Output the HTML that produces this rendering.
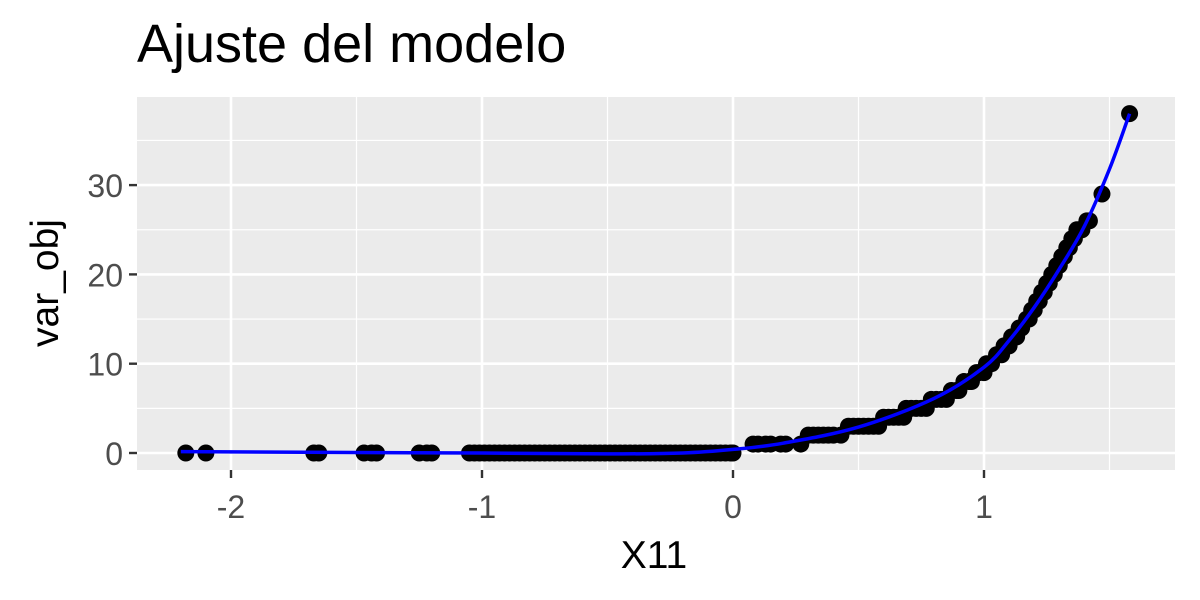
<!DOCTYPE html>
<html><head><meta charset="utf-8"><style>
html,body{margin:0;padding:0;background:#fff;}
svg{display:block;font-family:"Liberation Sans",Arial,sans-serif;}
</style></head><body>
<svg id="chart" width="1200" height="600" viewBox="0 0 1200 600">
<text x="137" y="62" font-size="54" fill="#000">Ajuste del modelo</text>
<rect x="137" y="97" width="1038" height="373" fill="#ebebeb"/>
<g id="grid"></g>
<g id="axes"></g>
<g id="pts"></g>
<path id="fitline" fill="none" stroke="#0000ff" stroke-width="3.5"/>
<text x="654" y="568" font-size="39" text-anchor="middle" fill="#000">X11</text>
<text transform="translate(58,283) rotate(-90)" font-size="39" text-anchor="middle" fill="#000">var_obj</text>
</svg>
<script>
const xTicks=[-2,-1,0,1];
const xMinor=[-1.5,-0.5,0.5,1.5];
const yTicks=[0,10,20,30];
const yMinor=[5,15,25,35];
const ptX=[-2.18,-2.1,-1.67,-1.65,-1.47,-1.44,-1.42,-1.25,-1.22,-1.2,-1.05,-1.03,-1.01,-0.99,-0.97,-0.95,-0.93,-0.91,-0.89,-0.87,-0.85,-0.83,-0.81,-0.79,-0.77,-0.75,-0.73,-0.71,-0.69,-0.67,-0.65,-0.63,-0.61,-0.59,-0.57,-0.55,-0.53,-0.51,-0.49,-0.47,-0.45,-0.43,-0.41,-0.39,-0.37,-0.35,-0.33,-0.31,-0.29,-0.27,-0.25,-0.23,-0.21,-0.19,-0.17,-0.15,-0.13,-0.11,-0.09,-0.07,-0.05,-0.03,-0.01,0.0,
0.08,0.1,0.13,0.15,0.19,0.21,0.27,0.3,0.32,0.34,0.36,0.38,0.4,0.43,0.46,0.48,0.5,0.52,0.54,0.56,0.58,0.6,0.62,0.64,0.66,0.68,0.69,0.71,0.73,0.75,0.77,0.79,0.81,0.83,0.85,0.87,0.89,0.9,0.92,0.94,0.95,0.97,0.98,1.0,1.01,1.03,1.05,1.07,1.08,1.1,1.11,1.13,1.14,1.15,1.17,1.18,1.19,1.2,1.21,1.22,1.23,1.24,1.25,1.26,1.27,1.28,1.29,1.3,1.31,1.32,1.33,1.34,1.35,1.36,1.37,1.38,1.39,1.41,1.42,1.47,1.58];
const ptY=[0,0,0,0,0,0,0,0,0,0,0,0,0,0,0,0,0,0,0,0,0,0,0,0,0,0,0,0,0,0,0,0,0,0,0,0,0,0,0,0,0,0,0,0,0,0,0,0,0,0,0,0,0,0,0,0,0,0,0,0,0,0,0,0,
1,1,1,1,1,1,1,2,2,2,2,2,2,2,3,3,3,3,3,3,3,4,4,4,4,4,5,5,5,5,5,6,6,6,6,7,7,7,8,8,8,9,9,9,10,10,11,11,12,12,13,13,14,14,15,15,16,16,17,17,18,18,19,19,20,20,21,21,22,22,23,23,24,24,25,25,25,26,26,29,38];
const fitX=[-2.2,-1.5,-1.0,-0.5,-0.2,0,0.2,0.5,0.8,1.0,1.1,1.2,1.3,1.4,1.5,1.58];
const fitY=[0.15,0.05,0.0,-0.1,0.0,0.4,1.1,2.9,6.1,9.6,12.6,16.3,20.6,25.4,31.8,38];
const X0=733,XS=251,Y0=453,YS=8.93;
const sx=v=>X0+v*XS, sy=v=>Y0-v*YS;
const NS="http://www.w3.org/2000/svg";
const grid=document.getElementById('grid'),axes=document.getElementById('axes'),pts=document.getElementById('pts');
function mk(tag,attrs,parent){const e=document.createElementNS(NS,tag);for(const k in attrs)e.setAttribute(k,attrs[k]);parent.appendChild(e);return e;}
xMinor.forEach(v=>{const l=mk('line',{x1:sx(v),x2:sx(v),y1:97,y2:470,stroke:'#fff','stroke-width':1.2},grid);

});
yMinor.forEach(v=>{const l=mk('line',{x1:137,x2:1175,y1:sy(v),y2:sy(v),stroke:'#fff','stroke-width':1.2},grid);

});
xTicks.forEach(v=>{const l=mk('line',{x1:sx(v),x2:sx(v),y1:97,y2:470,stroke:'#fff','stroke-width':2.6},grid);


const t=mk('line',{x1:sx(v),x2:sx(v),y1:470,y2:478,stroke:'#333','stroke-width':2.4},axes);


const tx=mk('text',{x:sx(v),y:518,'font-size':32,'text-anchor':'middle',fill:'#4d4d4d'},axes);tx.textContent=(v<0?'-':'')+Math.abs(v);

});
yTicks.forEach(v=>{const l=mk('line',{x1:137,x2:1175,y1:sy(v),y2:sy(v),stroke:'#fff','stroke-width':2.6},grid);


const t=mk('line',{x1:129,x2:137,y1:sy(v),y2:sy(v),stroke:'#333','stroke-width':2.4},axes);


const tx=mk('text',{x:123,y:sy(v)+12,'font-size':32,'text-anchor':'end',fill:'#4d4d4d'},axes);tx.textContent=v;

});
ptX.forEach((v,i)=>{const c=mk('circle',{cx:sx(v),cy:sy(ptY[i]),r:8.5,fill:'#000'},pts);

});
const P=fitX.map((v,i)=>[sx(v),sy(fitY[i])]);
let d='M'+P[0][0]+','+P[0][1];
for(let i=0;i<P.length-1;i++){const p0=P[Math.max(0,i-1)],p1=P[i],p2=P[i+1],p3=P[Math.min(P.length-1,i+2)];
d+=' C'+(p1[0]+(p2[0]-p0[0])/6)+','+(p1[1]+(p2[1]-p0[1])/6)+' '+(p2[0]-(p3[0]-p1[0])/6)+','+(p2[1]-(p3[1]-p1[1])/6)+' '+p2[0]+','+p2[1];}
document.getElementById('fitline').setAttribute('d',d);
</script>
</body></html>
